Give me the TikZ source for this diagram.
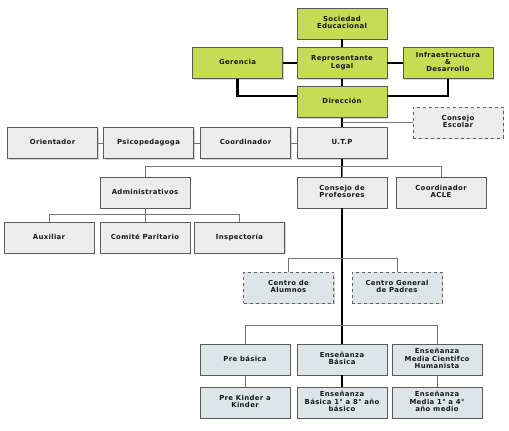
\documentclass[tikz,border=0pt]{standalone}
\usepackage{fontspec}
\setmainfont{DejaVu Sans}
\usetikzlibrary{shadows}
\definecolor{verde}{HTML}{C6DC54}
\definecolor{gris}{HTML}{ECECEC}
\definecolor{celeste}{HTML}{DEE5E8}
\definecolor{borde}{HTML}{5A5A5A}
\tikzset{
  caja/.style={draw=borde,line width=0.7pt,fill=gris,minimum width=90pt,minimum height=31pt,
    align=center,inner sep=1pt,text=black!90,
    font=\bfseries\addfontfeature{LetterSpace=5}\fontsize{6.9}{7.2}\selectfont,
    execute at begin node=\strut,execute at end node=\strut,
    drop shadow={shadow xshift=1pt,shadow yshift=-1pt,opacity=0.35}},
  cajaverde/.style={caja,fill=verde},
  cajapunt/.style={caja,dashed,draw=gris!40!black,fill=celeste},
  grueso/.style={line width=2.2pt,black},
  fino/.style={line width=0.6pt,black!55}
}
\begin{document}
\begin{tikzpicture}[x=1pt,y=-1pt]
  \useasboundingbox (0,0) rectangle (509,431);
  % direccion superior
  \node[cajaverde] (soc) at (342,23.5) {Sociedad\\Educacional};
  \node[cajaverde] (rep) at (342,63) {Representante\\Legal};
  \node[cajaverde] (ger) at (237.5,63) {Gerencia};
  \node[cajaverde] (inf) at (448,63) {Infraestructura\\\&\\Desarrollo};
  \node[cajaverde] (dir) at (342,102) {Dirección};
  \node[cajapunt,fill=gris] (esc) at (458,122.5) {Consejo\\Escolar};
  % fila UTP
  \node[caja] (ori) at (52.5,143) {Orientador};
  \node[caja] (psi) at (148.5,143) {Psicopedagoga};
  \node[caja] (coo) at (245.5,143) {Coordinador};
  \node[caja] (utp) at (342,143) {U.T.P};
  \node[caja] (adm) at (145,192.5) {Administrativos};
  \node[caja] (cpr) at (342,192.5) {Consejo de\\Profesores};
  \node[caja] (acle) at (441,192.5) {Coordinador\\ACLE};
  \node[caja] (aux) at (49,237.5) {Auxiliar};
  \node[caja] (com) at (145,237.5) {Comité Paritario};
  \node[caja] (ins) at (239.5,237.5) {Inspectoría};
  % centros
  \node[cajapunt] (cal) at (288.5,287.5) {Centro de\\Alumnos};
  \node[cajapunt] (cgp) at (397,287.5) {Centro General\\de Padres};
  % ensenanza
  \node[caja,fill=celeste] (pre) at (245,359.5) {Pre básica};
  \node[caja,fill=celeste] (eba) at (342,359.5) {Enseñanza\\Básica};
  \node[caja,fill=celeste] (eme) at (437,359.5) {Enseñanza\\Media Cientifco\\Humanista};
  \node[caja,fill=celeste] (pki) at (245,402.5) {Pre Kinder a\\Kinder};
  \node[caja,fill=celeste] (eb8) at (342,402.5) {Enseñanza\\Básica 1° a 8° año\\básico};
  \node[caja,fill=celeste] (em4) at (437,402.5) {Enseñanza\\Media 1° a 4°\\año medio};
  % lineas gruesas
  \draw[grueso] (soc)--(rep) (rep)--(dir) (ger)--(rep) (rep)--(inf);
  \draw[grueso] (ger.south) |- ([yshift=6pt]dir.west);
  \draw[grueso] (inf.south) |- ([yshift=6pt]dir.east);
  \draw[grueso] (dir)--(utp) (utp)--(cpr) (cpr)--(eba) (eba)--(eb8);
  % lineas finas
  \draw[fino] (esc.west) -- (esc.west -| dir.south);
  \draw[fino] (ori)--(psi) (psi)--(coo) (coo)--(utp);
  \draw[fino] (adm.north) -- ++(0,-10) -| (acle.north);
  \draw[fino] (cpr.north) -- ++(0,-10);
  \draw[fino] (aux.north) -- ++(0,-7) -| (ins.north);
  \draw[fino] (adm)--(com);
  \draw[fino] (cal.north) -- ++(0,-13) -| (cgp.north);
  \draw[fino] (pre.north) -- ++(0,-18) -| (eme.north);
  \draw[fino] (pre)--(pki) (eme)--(em4);
\end{tikzpicture}
\end{document}
